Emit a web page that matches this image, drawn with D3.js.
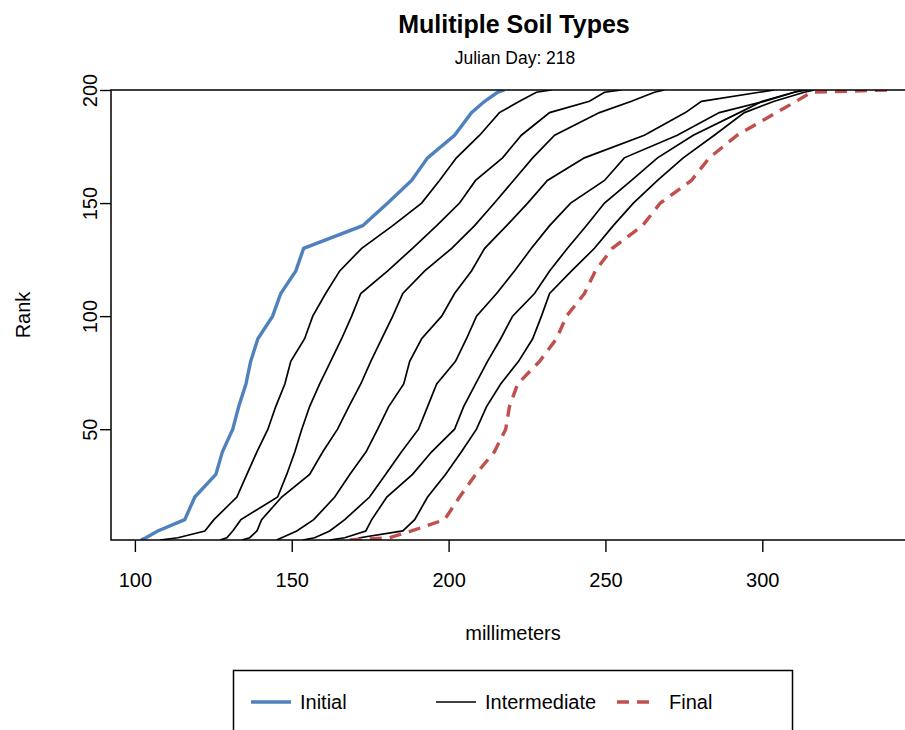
<!DOCTYPE html>
<html>
<head>
<meta charset="utf-8">
<script src="https://cdn.jsdelivr.net/npm/d3@7"></script>
<style>
  body { margin: 0; background: #fff; }
  svg text { font-family: "Liberation Sans", Arial, sans-serif; fill: #000; }
</style>
</head>
<body>
<script>
// rank levels the curves were read at (1..200)
const ranks = [1, 2, 5, 10, 20, 30, 40, 50, 60, 70, 80, 90, 100, 110, 120, 130, 140, 150, 160, 170, 180, 190, 195, 199, 200];

// millimeters at each rank
const initialMm = [101.9, 103.5, 107.3, 115.9, 119.1, 125.8, 127.9, 131.2, 133.1, 135.4, 136.9, 139.2, 143.9, 146.5, 151.3, 153.8, 172.6, 180.6, 188.2, 193.3, 201.9, 207.3, 211.5, 215.6, 217.8];
const inter1 = [108.0, 113.7, 122.3, 125.2, 132.5, 135.7, 138.9, 142.4, 144.9, 147.8, 149.7, 154.1, 156.7, 160.8, 165.3, 172.3, 182.2, 191.4, 197.1, 202.5, 209.9, 216.2, 222.6, 228.0, 232.8];
const inter2 = [127.1, 129.3, 131.2, 133.8, 145.5, 148.4, 151.0, 153.2, 155.7, 158.9, 162.4, 165.9, 169.1, 172.0, 180.6, 188.5, 196.2, 203.5, 208.6, 217.2, 223.2, 232.2, 244.9, 249.7, 255.1];
const inter3 = [134.1, 136.6, 138.9, 140.4, 146.8, 155.7, 159.9, 164.6, 168.2, 172.0, 175.2, 178.7, 182.2, 185.4, 192.4, 201.0, 208.3, 214.6, 220.7, 226.8, 233.8, 248.1, 258.3, 265.6, 268.8];
const inter4 = [145.2, 146.8, 151.6, 157.0, 163.7, 168.5, 173.7, 177.4, 180.9, 185.7, 187.6, 191.4, 197.8, 201.9, 207.3, 211.5, 218.5, 225.2, 231.5, 243.3, 262.4, 275.5, 280.6, 299.0, 303.8];
const inter5 = [153.5, 157.3, 162.1, 166.9, 174.8, 179.9, 185.0, 190.4, 193.3, 196.2, 202.2, 205.7, 208.9, 215.3, 221.0, 226.4, 232.2, 238.9, 249.7, 256.0, 272.9, 286.3, 300.6, 310.2, 312.7];
const inter6 = [162.1, 166.9, 173.6, 175.5, 180.3, 188.5, 194.6, 201.9, 204.8, 208.6, 212.4, 216.6, 220.4, 227.4, 232.2, 237.9, 243.9, 249.7, 258.3, 266.6, 278.0, 292.7, 300.0, 310.2, 314.3];
const inter7 = [170.0, 171.7, 185.4, 189.2, 193.3, 199.0, 204.1, 208.9, 212.1, 216.6, 222.3, 226.8, 229.6, 232.2, 239.2, 246.5, 252.5, 258.9, 266.6, 274.8, 284.7, 294.3, 303.8, 313.4, 316.6];
const finalMm = [168.5, 181.2, 188.2, 198.7, 203.5, 208.6, 214.6, 218.2, 219.4, 222.0, 229.0, 234.4, 237.6, 243.3, 246.8, 252.2, 261.8, 267.5, 277.4, 283.1, 292.0, 304.5, 310.8, 315.6, 339.8];
const intermediates = [inter1, inter2, inter3, inter4, inter5, inter6, inter7];

const xTicks = [100, 150, 200, 250, 300];
const yTicks = [50, 100, 150, 200];
const legendLabels = ["Initial", "Intermediate", "Final"];

const blue = "#4f81bd", red = "#c0504d";
let plot = {left: 111, top: 90, right: 917, bottom: 540};

let svg = d3.select("body")
    .append("svg")
    .attr("width", 905)
    .attr("height", 730);

//Scales, x padded by 4% like R
let all = d3.merge([initialMm, finalMm].concat(intermediates));
let lo = d3.min(all), hi = d3.max(all), pad = (hi - lo) * 0.04;
let xScale = d3.scaleLinear().domain([lo - pad, hi + pad]).range([plot.left, plot.right]);
let yScale = d3.scaleLinear().domain([1, 200]).range([plot.bottom, plot.top]);

svg.append("clipPath").attr("id", "clip")
    .append("rect")
    .attr("x", plot.left).attr("y", plot.top)
    .attr("width", plot.right - plot.left).attr("height", plot.bottom - plot.top);

let line = d3.line()
    .x((d) => xScale(d[0]))
    .y((d) => yScale(d[1]));
const toPts = (vals) => vals.map((v, i) => [v, ranks[i]]);

let curves = svg.append("g").attr("clip-path", "url(#clip)");

curves.append("path")
    .attr("d", line(toPts(initialMm)))
    .attr("fill", "none")
    .attr("stroke", blue)
    .attr("stroke-width", 3.4);

curves.selectAll(".inter")
    .data(intermediates)
    .join("path")
    .attr("class", "inter")
    .attr("d", (d) => line(toPts(d)))
    .attr("fill", "none")
    .attr("stroke", "#000")
    .attr("stroke-width", 1.7);

curves.append("path")
    .attr("d", line(toPts(finalMm)))
    .attr("fill", "none")
    .attr("stroke", red)
    .attr("stroke-width", 3.4)
    .attr("stroke-dasharray", "12,8");

//Box
svg.append("rect")
    .attr("x", plot.left).attr("y", plot.top)
    .attr("width", plot.right - plot.left).attr("height", plot.bottom - plot.top)
    .attr("fill", "none")
    .attr("stroke", "#000")
    .attr("stroke-width", 1.5);

//X axis
svg.append("g")
    .attr("transform", `translate(0, ${plot.bottom})`)
    .call(d3.axisBottom(xScale).tickValues(xTicks).tickSize(12).tickPadding(21).tickFormat(d3.format("d")))
    .call((g) => g.select(".domain").remove())
    .call((g) => g.selectAll("line").attr("stroke", "#000").attr("stroke-width", 1.4))
    .call((g) => g.selectAll("text").attr("font-size", "20px").attr("font-family", null));

//Y axis, labels turned like R
svg.append("g")
    .attr("transform", `translate(${plot.left}, 0)`)
    .call(d3.axisLeft(yScale).tickValues(yTicks).tickSize(11).tickFormat(d3.format("d")))
    .call((g) => g.select(".domain").remove())
    .call((g) => g.selectAll("line").attr("stroke", "#000").attr("stroke-width", 1.4))
    .call((g) => g.selectAll("text")
        .attr("x", null).attr("dy", null)
        .attr("text-anchor", "middle")
        .attr("transform", "translate(-14,0) rotate(-90)")
        .attr("font-size", "20px")
        .attr("font-family", null));

//Titles
svg.append("text")
    .attr("x", 514).attr("y", 33)
    .attr("text-anchor", "middle")
    .attr("font-size", "25px")
    .attr("font-weight", "bold")
    .text("Mulitiple Soil Types");

svg.append("text")
    .attr("x", 515).attr("y", 64)
    .attr("text-anchor", "middle")
    .attr("font-size", "17.5px")
    .text("Julian Day: 218");

svg.append("text")
    .attr("x", 513).attr("y", 640)
    .attr("text-anchor", "middle")
    .attr("font-size", "20px")
    .text("millimeters");

svg.append("text")
    .attr("transform", `translate(30, ${(plot.top + plot.bottom) / 2}) rotate(-90)`)
    .attr("text-anchor", "middle")
    .attr("font-size", "20px")
    .text("Rank");

//Legend
let legend = svg.append("g");
legend.append("rect")
    .attr("x", 233.5).attr("y", 670.5)
    .attr("width", 559).attr("height", 100)
    .attr("fill", "none")
    .attr("stroke", "#000")
    .attr("stroke-width", 1.5);

let keys = [
    {x: 251, tx: 300, color: blue, w: 3.4, dash: null},
    {x: 436, tx: 485, color: "#000", w: 1.7, dash: null},
    {x: 617, tx: 669, color: red, w: 3.4, dash: "12,8"}
];
keys.forEach((k, i) => {
    legend.append("line")
        .attr("x1", k.x).attr("x2", k.x + 40)
        .attr("y1", 702).attr("y2", 702)
        .attr("stroke", k.color)
        .attr("stroke-width", k.w)
        .attr("stroke-dasharray", k.dash);
    legend.append("text")
        .attr("x", k.tx).attr("y", 709)
        .attr("font-size", "20px")
        .text(legendLabels[i]);
});
</script>
</body>
</html>
